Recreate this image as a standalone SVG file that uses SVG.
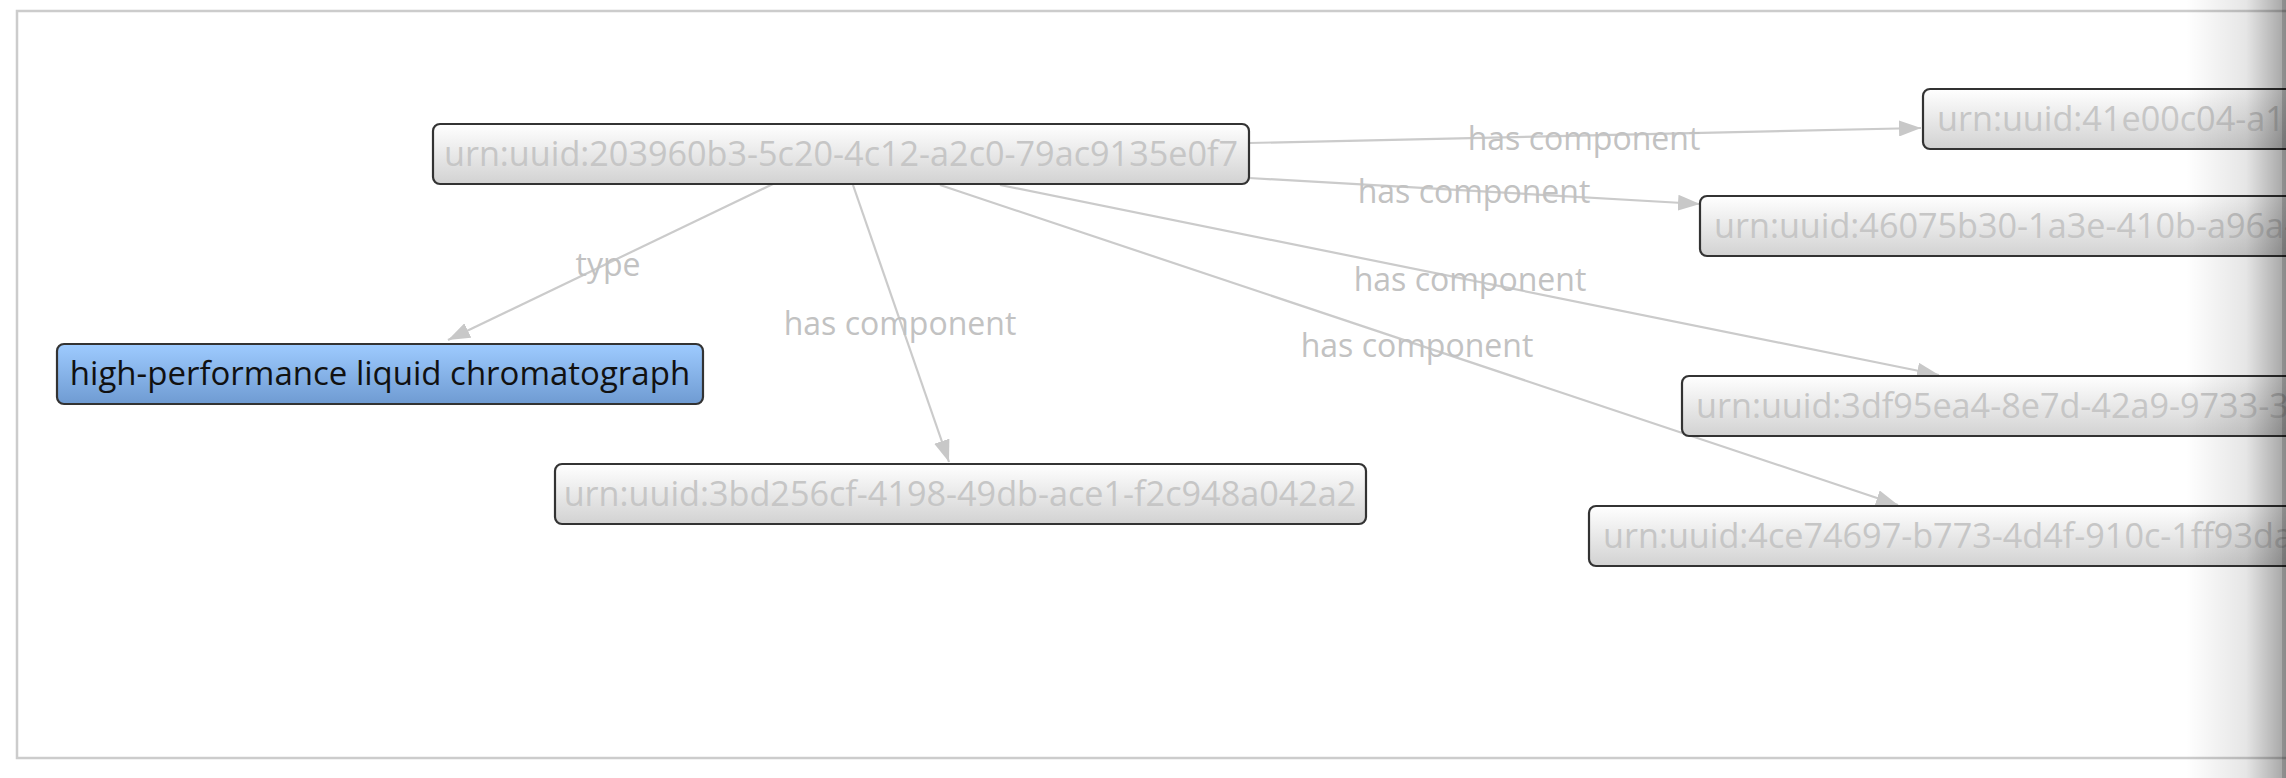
<svg xmlns="http://www.w3.org/2000/svg" width="2286" height="778" viewBox="0 0 2286 778">
<defs>
<linearGradient id="gGray" x1="0" y1="0" x2="0" y2="1">
<stop offset="0" stop-color="#ffffff"/>
<stop offset="1" stop-color="#d2d2d2"/>
</linearGradient>
<linearGradient id="gBlue" x1="0" y1="0" x2="0" y2="1">
<stop offset="0" stop-color="#9ecbff"/>
<stop offset="1" stop-color="#6f9bd2"/>
</linearGradient>
<linearGradient id="gFade" x1="0" y1="0" x2="1" y2="0">
<stop offset="0" stop-color="#000" stop-opacity="0"/>
<stop offset="0.6" stop-color="#000" stop-opacity="0.1"/>
<stop offset="1" stop-color="#000" stop-opacity="0.36"/>
</linearGradient>
<marker id="arr" viewBox="0 0 22 16" refX="22" refY="8" markerWidth="22" markerHeight="16" markerUnits="userSpaceOnUse" orient="auto">
<path d="M0,0 L22,8 L0,16 z" fill="#c8c8c8"/>
</marker>
</defs>
<style>
.frame{fill:#fff;stroke:#cccccc;stroke-width:2.5}
.box{fill:url(#gGray);stroke:#333;stroke-width:2.2}
.boxb{fill:url(#gBlue);stroke:#333;stroke-width:2.2}
.t{font-family:"Open Sans","Noto Sans",sans-serif;font-size:34.2px;fill:#c6c6c6}
.tb{font-family:"Open Sans","Noto Sans",sans-serif;font-size:33px;fill:#111}
.e{stroke:#cbcbcb;stroke-width:2.2;fill:none;marker-end:url(#arr)}
.l{font-family:"Open Sans","Noto Sans",sans-serif;font-size:32px;fill:#c2c2c2;text-anchor:middle}
</style>
<rect x="0" y="0" width="2286" height="778" fill="#fff"/>
<rect class="frame" x="17" y="11" width="2320" height="747"/>
<g id="connectors">
<line class="e" x1="773" y1="184" x2="448" y2="340"/>
<line class="e" x1="853" y1="185" x2="949" y2="462"/>
<line class="e" x1="1249" y1="143" x2="1921" y2="128"/>
<line class="e" x1="1249" y1="178" x2="1700" y2="204"/>
<line class="e" x1="1000" y1="185" x2="1939" y2="375"/>
<line class="e" x1="940" y1="185" x2="1898" y2="505"/>
<text class="l" x="608" y="276">type</text>
<text class="l" x="900" y="335">has component</text>
<text class="l" x="1584" y="150">has component</text>
<text class="l" x="1474" y="203">has component</text>
<text class="l" x="1470" y="291">has component</text>
<text class="l" x="1417" y="357">has component</text>
</g>
<g id="n-main">
<rect class="box" x="433" y="124" width="816" height="60" rx="7"/>
<text class="t" x="841" y="166" text-anchor="middle">urn:uuid:203960b3-5c20-4c12-a2c0-79ac9135e0f7</text>
</g>
<g id="n-hplc">
<rect class="boxb" x="57" y="344" width="646" height="60" rx="7"/>
<text class="tb" x="380" y="385" text-anchor="middle">high-performance liquid chromatograph</text>
</g>
<g id="n-3bd256cf">
<rect class="box" x="555" y="464" width="811" height="60" rx="7"/>
<text class="t" x="960" y="506" text-anchor="middle">urn:uuid:3bd256cf-4198-49db-ace1-f2c948a042a2</text>
</g>
<g id="n-41e00c04">
<rect class="box" x="1923" y="89" width="700" height="60" rx="7"/>
<text class="t" x="1937" y="131">urn:uuid:41e00c04-a1</text>
</g>
<g id="n-46075b30">
<rect class="box" x="1700" y="196" width="700" height="60" rx="7"/>
<text class="t" x="1714" y="238">urn:uuid:46075b30-1a3e-410b-a96a-</text>
</g>
<g id="n-3df95ea4">
<rect class="box" x="1682" y="376" width="700" height="60" rx="7"/>
<text class="t" x="1696" y="418">urn:uuid:3df95ea4-8e7d-42a9-9733-3</text>
</g>
<g id="n-4ce74697">
<rect class="box" x="1589" y="506" width="800" height="60" rx="7"/>
<text class="t" x="1603" y="548">urn:uuid:4ce74697-b773-4d4f-910c-1ff93da</text>
</g>
<rect x="2186" y="0" width="100" height="778" fill="url(#gFade)"/>
<rect x="2282" y="0" width="4" height="778" fill="#000" fill-opacity="0.15"/>
</svg>
